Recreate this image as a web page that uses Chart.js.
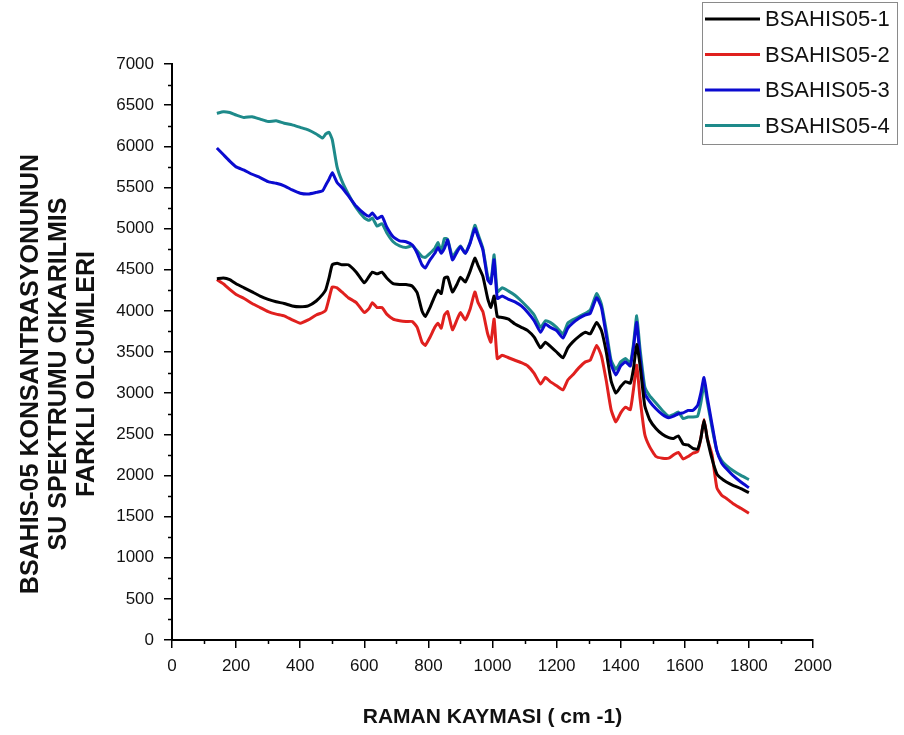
<!DOCTYPE html>
<html>
<head>
<meta charset="utf-8">
<title>BSAHIS-05 Raman</title>
<script src="https://cdn.jsdelivr.net/npm/chart.js@4.4.1/dist/chart.umd.min.js"></script>
<style>
  html, body { margin: 0; padding: 0; background: #fff; }
  canvas { display: block; }
</style>
</head>
<body>
<canvas id="chart" width="904" height="735"></canvas>
<script>
// Raman shift (cm-1) sampling points, shared by all four measurements
const wavenumbers = [
  140, 160, 180, 200, 225, 250, 275, 300, 325, 350, 375, 400, 425, 450, 470, 480, 490, 500, 515, 530,
  550, 575, 600, 615, 625, 640, 655, 670, 690, 710, 730, 750, 765, 780, 790, 805, 820, 830, 840, 850,
  860, 875, 890, 900, 915, 930, 945, 955, 970, 985, 995, 1005, 1015, 1030, 1050, 1070, 1090, 1110, 1130, 1150,
  1165, 1180, 1200, 1220, 1235, 1250, 1270, 1290, 1305, 1325, 1340, 1355, 1370, 1385, 1400, 1415, 1430, 1440, 1450, 1460,
  1475, 1490, 1510, 1530, 1550, 1565, 1580, 1595, 1610, 1625, 1640, 1650, 1660, 1670, 1685, 1700, 1715, 1730, 1750, 1775,
  1800
];

const series1 = [
  4390, 4400, 4380, 4330, 4280, 4230, 4180, 4140, 4110, 4090, 4060, 4050, 4060, 4120, 4200, 4260, 4400, 4560, 4580, 4560,
  4560, 4470, 4340, 4420, 4470, 4450, 4470, 4400, 4330, 4320, 4320, 4300, 4220, 4000, 3930, 4040, 4180, 4250, 4210, 4400,
  4410, 4230, 4330, 4410, 4350, 4480, 4640, 4550, 4420, 4150, 4040, 4180, 3930, 3920, 3900, 3840, 3800, 3760, 3680, 3550,
  3620, 3570, 3500, 3430, 3550, 3620, 3690, 3740, 3720, 3860, 3760, 3500, 3150, 3000, 3080, 3140, 3120, 3300, 3590, 3350,
  2850, 2680, 2570, 2500, 2460, 2450, 2480, 2380, 2370, 2330, 2320, 2450, 2670, 2450, 2200, 2020, 1960, 1920, 1880, 1840,
  1790
];

const series2 = [
  4380, 4330, 4260, 4200, 4150, 4090, 4040, 3990, 3960, 3940, 3890, 3850, 3890, 3950, 3980, 4010, 4150, 4290, 4280, 4230,
  4160, 4100, 3980, 4030, 4100, 4040, 4040, 3960, 3900, 3880, 3870, 3870, 3800, 3620, 3580, 3680, 3800, 3850, 3790, 3950,
  3990, 3770, 3900, 3980, 3890, 4020, 4230, 4100, 3990, 3720, 3620, 3900, 3420, 3460, 3430, 3400, 3370, 3330, 3240, 3110,
  3190, 3140, 3090, 3040, 3160, 3220, 3310, 3380, 3400, 3580, 3450, 3150, 2800, 2650, 2760, 2830, 2800, 3050, 3340, 2950,
  2500, 2350, 2230, 2210, 2210, 2250, 2280, 2200, 2230, 2270, 2290, 2450, 2680, 2450, 2250, 1850, 1760, 1720, 1660, 1600,
  1540
];

const series3 = [
  5980, 5900, 5820, 5750, 5710, 5660, 5620, 5570, 5550, 5520, 5470, 5430, 5420, 5440, 5460, 5530, 5600, 5680, 5560, 5500,
  5400, 5270, 5180, 5150, 5190, 5120, 5150, 5020, 4900, 4850, 4840, 4800, 4700, 4560, 4520, 4620, 4700, 4770, 4700, 4760,
  4860, 4620, 4720, 4780, 4700, 4820, 5000, 4900, 4740, 4380, 4330, 4620, 4150, 4180, 4140, 4110, 4060, 3980, 3880, 3740,
  3840, 3800, 3760, 3670, 3790, 3850, 3910, 3950, 3970, 4160, 4040, 3700, 3350, 3220, 3330, 3380, 3330, 3560, 3860, 3450,
  3000, 2900, 2810, 2740, 2700, 2720, 2750, 2760, 2790, 2790, 2850, 3000, 3190, 2950, 2620, 2300, 2150, 2080, 2000, 1920,
  1850
];

const series4 = [
  6400, 6420, 6410, 6380, 6350, 6360, 6330, 6300, 6310, 6280, 6260, 6230, 6200, 6150, 6100, 6150, 6170, 6080, 5750, 5580,
  5420, 5250, 5130, 5100, 5130, 5030, 5060, 4950, 4840, 4790, 4770, 4790, 4730, 4660, 4650, 4700, 4760, 4830, 4720, 4880,
  4870, 4660, 4740, 4790, 4700, 4830, 5040, 4930, 4760, 4420, 4350, 4680, 4230, 4280, 4240, 4190, 4120, 4040, 3950, 3800,
  3880, 3860, 3800, 3720, 3850, 3890, 3930, 3970, 4010, 4210, 4080, 3760, 3400, 3290, 3380, 3420, 3370, 3600, 3940, 3550,
  3080, 2970, 2880, 2790, 2720, 2740, 2770, 2690, 2710, 2710, 2720, 2880, 3110, 2900, 2580, 2300, 2180, 2120, 2060, 2000,
  1950
];

const seriesLabels = ['BSAHIS05-1', 'BSAHIS05-2', 'BSAHIS05-3', 'BSAHIS05-4'];
const seriesColors = ['#000000', '#E0201E', '#0B0BD0', '#1E8A8A'];
const seriesValues = [series1, series2, series3, series4];

const yTitleLines = ['BSAHIS-05 KONSANTRASYONUNUN', 'SU SPEKTRUMU CIKARILMIS', 'FARKLI OLCUMLERI'];
const xTitle = 'RAMAN KAYMASI ( cm -1)';

const FONT = '"Liberation Sans", Arial, sans-serif';

const datasets = seriesValues.map((vals, i) => ({
  label: seriesLabels[i],
  data: wavenumbers.map((w, j) => ({ x: w, y: vals[j] })),
  borderColor: seriesColors[i],
  backgroundColor: seriesColors[i],
  borderWidth: 3,
  pointRadius: 0,
  tension: 0.15,
  fill: false
}));

// short ticks halfway between the labelled ones, plus the boxed legend and the stacked y title
const extras = {
  id: 'extras',
  afterDraw(chart) {
    const ctx = chart.ctx;
    const xs = chart.scales.x;
    const ys = chart.scales.y;
    const area = chart.chartArea;

    ctx.save();
    ctx.strokeStyle = '#000';
    ctx.lineWidth = 1.5;
    ctx.beginPath();
    for (let v = 250; v < 7000; v += 500) {
      const py = Math.round(ys.getPixelForValue(v)) + 0.5;
      ctx.moveTo(area.left - 4, py);
      ctx.lineTo(area.left, py);
    }
    for (let v = 100; v < 2000; v += 200) {
      const px = Math.round(xs.getPixelForValue(v)) + 0.5;
      ctx.moveTo(px, area.bottom);
      ctx.lineTo(px, area.bottom + 4);
    }
    ctx.stroke();

    // legend
    ctx.strokeStyle = '#8a8a8a';
    ctx.lineWidth = 1;
    ctx.strokeRect(702.5, 2.5, 195, 142);
    ctx.font = '22px ' + FONT;
    ctx.textBaseline = 'middle';
    ctx.textAlign = 'left';
    chart.data.datasets.forEach((ds, i) => {
      const ly = 19 + i * 35.5;
      ctx.strokeStyle = ds.borderColor;
      ctx.lineWidth = 3;
      ctx.beginPath();
      ctx.moveTo(705, ly);
      ctx.lineTo(760, ly);
      ctx.stroke();
      ctx.fillStyle = '#111';
      ctx.fillText(ds.label, 765, ly + 1);
    });

    // y axis title, three centred lines rotated
    ctx.fillStyle = '#111';
    ctx.font = 'bold 25px ' + FONT;
    ctx.textAlign = 'center';
    ctx.textBaseline = 'middle';
    yTitleLines.forEach((line, i) => {
      ctx.save();
      ctx.translate(31 + i * 28, 374);
      ctx.rotate(-Math.PI / 2);
      ctx.fillText(line, 0, 0);
      ctx.restore();
    });
    ctx.restore();
  }
};

new Chart(document.getElementById('chart'), {
  type: 'line',
  data: { datasets: datasets },
  options: {
    responsive: false,
    animation: false,
    events: [],
    layout: { padding: { top: 64, right: 91, bottom: 0, left: 0 } },
    plugins: {
      legend: { display: false },
      tooltip: { enabled: false }
    },
    scales: {
      x: {
        type: 'linear',
        min: 0,
        max: 2000,
        border: { display: true, color: '#000', width: 2 },
        grid: { display: true, drawOnChartArea: false, drawTicks: true, tickLength: 8, color: '#000', lineWidth: 1.5 },
        ticks: {
          stepSize: 200, autoSkip: false, maxRotation: 0, color: '#111', padding: 8,
          font: { family: FONT, size: 17 },
          callback: (v) => String(v)
        },
        title: {
          display: true,
          text: xTitle,
          color: '#111',
          font: { family: FONT, size: 21, weight: 'bold' },
          padding: { top: 0, bottom: 5 }
        },
        afterFit(scale) { scale.height = 95; }
      },
      y: {
        type: 'linear',
        min: 0,
        max: 7000,
        border: { display: true, color: '#000', width: 2 },
        grid: { display: true, drawOnChartArea: false, drawTicks: true, tickLength: 8, color: '#000', lineWidth: 1.5 },
        ticks: {
          stepSize: 500, autoSkip: false, color: '#111', padding: 10,
          font: { family: FONT, size: 17 },
          callback: (v) => String(v)
        },
        afterFit(scale) { scale.width = 172; }
      }
    }
  },
  plugins: [extras]
});
</script>
</body>
</html>
